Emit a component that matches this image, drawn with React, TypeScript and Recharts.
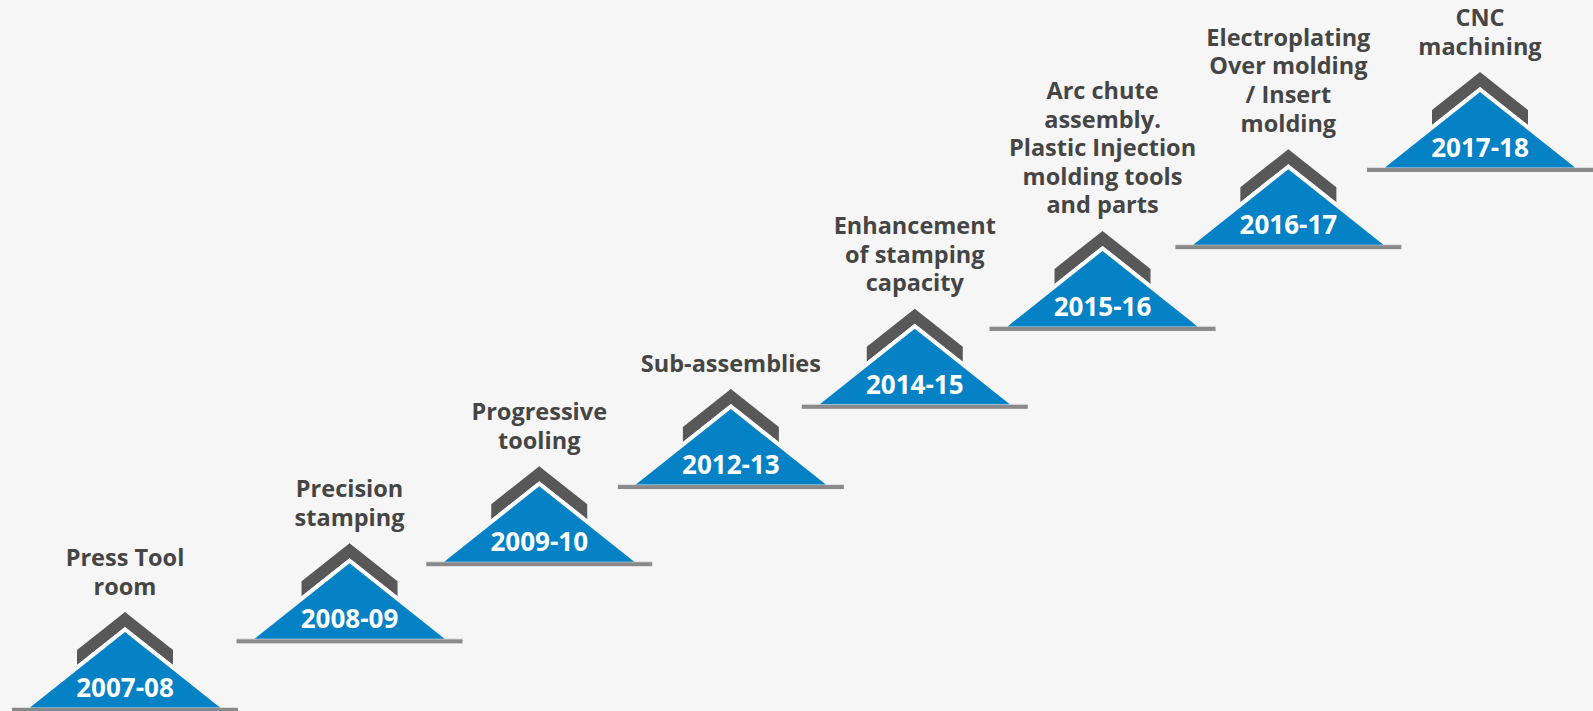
import React from 'react';
import { ScatterChart, Scatter, XAxis, YAxis } from 'recharts';

// timeline steps
const years = ['2007-08', '2008-09', '2009-10', '2012-13', '2014-15', '2015-16', '2016-17', '2017-18'];
const labels = [
  ['Press Tool', 'room'],
  ['Precision', 'stamping'],
  ['Progressive', 'tooling'],
  ['Sub-assemblies'],
  ['Enhancement', 'of stamping', 'capacity'],
  ['Arc chute', 'assembly.', 'Plastic Injection', 'molding tools', 'and parts'],
  ['Electroplating', 'Over molding', '/ Insert', 'molding'],
  ['CNC', 'machining'],
];
// horizontal position along the timeline and height of each stair
const positions = [0, 1.16, 2.14, 3.13, 4.08, 5.05, 6.01, 7];
const levels = [0, 0.89, 1.89, 2.89, 3.93, 4.94, 6, 7];

const data = years.map((year, i) => ({
  year,
  lines: labels[i],
  pos: positions[i],
  level: levels[i],
}));

const FONT = '"Open Sans", "Noto Sans", sans-serif';

function StairStep(props: any) {
  const { cx, cy, payload } = props;
  const tri = `M${cx - 95},${cy - 2.5} L${cx},${cy - 78} L${cx + 95},${cy - 2.5} Z`;
  const chevron = `M${cx - 48},${cy - 45} L${cx},${cy - 83} L${cx + 48},${cy - 45} L${cx + 48},${cy - 60} L${cx},${cy - 98} L${cx - 48},${cy - 60} Z`;
  const gap = `M${cx - 48},${cy - 45} L${cx},${cy - 83} L${cx + 48},${cy - 45} L${cx + 48},${cy - 39.8} L${cx},${cy - 78} L${cx - 48},${cy - 39.8} Z`;
  const lines: string[] = payload.lines;
  const n = lines.length;
  return (
    <g>
      <rect x={cx - 113} y={cy - 3} width={226} height={1} fill="#dcdcdc" />
      <rect x={cx - 113} y={cy - 2} width={226} height={4} fill="#8a8a8a" />
      <path d={chevron} fill="#585858" />
      <path d={gap} fill="#ffffff" />
      <path d={tri} fill="#0582c6" />
      <text
        x={cx}
        y={cy - 13}
        textAnchor="middle"
        fill="#ffffff"
        fontFamily={FONT}
        fontWeight={700}
        fontSize={26}
      >
        {payload.year}
      </text>
      {lines.map((line, i) => (
        <text
          key={i}
          x={cx}
          y={cy - 115.5 - (n - 1 - i) * 28.6}
          textAnchor="middle"
          fill="#454545"
          fontFamily={FONT}
          fontWeight={700}
          fontSize={23.5}
        >
          {line}
        </text>
      ))}
    </g>
  );
}

export default function App() {
  return (
    <div style={{ position: 'absolute', left: 0, top: 0, width: 1593, height: 711, background: '#f6f6f6' }}>
      <ScatterChart width={1593} height={711} margin={{ top: 170, right: 113, bottom: 1, left: 125 }}>
        <XAxis type="number" dataKey="pos" domain={[0, 7]} hide />
        <YAxis type="number" dataKey="level" domain={[0, 7]} hide />
        <Scatter data={data} shape={(p: any) => <StairStep {...p} />} isAnimationActive={false} />
      </ScatterChart>
    </div>
  );
}
